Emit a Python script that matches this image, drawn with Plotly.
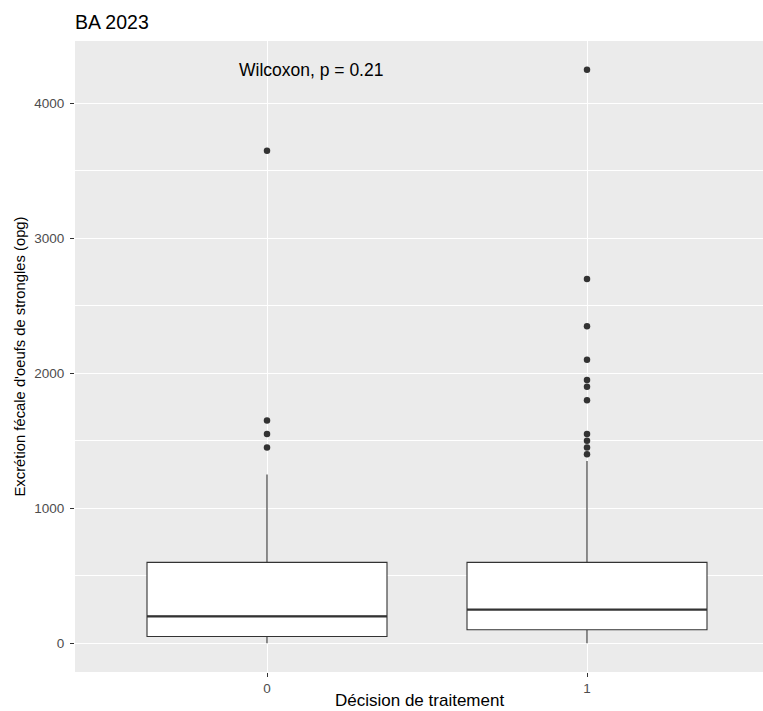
import plotly.graph_objects as go

# Data
groups = [0, 1]
group_labels = ["0", "1"]
q1 = [50, 100]
median = [200, 250]
q3 = [600, 600]
lower_whisker = [0, 0]
upper_whisker = [1250, 1350]
outliers_0 = [1450, 1550, 1650, 3650]
outliers_1 = [1400, 1450, 1500, 1550, 1800, 1900, 1950, 2100, 2350, 2700, 4250]
outliers = [outliers_0, outliers_1]
y_ticks = [0, 1000, 2000, 3000, 4000]

title_text = "BA 2023"
x_title = "Décision de traitement"
y_title = "Excrétion fécale d'oeufs de strongles (opg)"
test_label = "Wilcoxon, p = 0.21"

BOX_W = 0.75
LINE = "#333333"
FONT = "Liberation Sans, Arial, sans-serif"
ML, MT, MB = 75, 41, 39
W, H = 763, 711

fig = go.Figure()
for i, g in enumerate(groups):
    fig.add_trace(go.Box(
        x=[g], q1=[q1[i]], median=[median[i]], q3=[q3[i]],
        lowerfence=[lower_whisker[i]], upperfence=[upper_whisker[i]],
        width=BOX_W, whiskerwidth=0,
        fillcolor="white", line=dict(color=LINE, width=1.1),
        boxpoints=False, showlegend=False, hoverinfo="skip",
    ))
    # thicker median line (ggplot style)
    fig.add_trace(go.Scatter(
        x=[g - BOX_W / 2, g + BOX_W / 2], y=[median[i], median[i]],
        mode="lines", line=dict(color=LINE, width=2.2),
        showlegend=False, hoverinfo="skip",
    ))
    fig.add_trace(go.Scatter(
        x=[g] * len(outliers[i]), y=outliers[i], mode="markers",
        marker=dict(color=LINE, size=6.5, line=dict(width=0)),
        showlegend=False, hoverinfo="skip",
    ))

ymax = max(max(o) for o in outliers)
ymin = min(lower_whisker)
pad = (ymax - ymin) * 0.05

fig.add_annotation(
    x=-0.094, y=ymax, xref="x", yref="y", text=test_label,
    showarrow=False, xanchor="left", yanchor="middle",
    font=dict(family=FONT, size=17.5, color="black"),
)
# axis titles as annotations for precise placement
fig.add_annotation(
    x=0.5, y=0, xref="paper", yref="paper", text=x_title,
    showarrow=False, xanchor="center", yanchor="middle",
    yshift=-(700 - (H - MB)), font=dict(family=FONT, size=17, color="black"),
)
fig.add_annotation(
    x=0, y=0.5, xref="paper", yref="paper", text=y_title, textangle=-90,
    showarrow=False, xanchor="center", yanchor="middle",
    xshift=19 - ML, font=dict(family=FONT, size=14.8, color="black"),
)

fig.update_layout(
    width=W, height=H,
    margin=dict(l=ML, r=0, t=MT, b=MB, autoexpand=False),
    paper_bgcolor="white", plot_bgcolor="#EBEBEB",
    font=dict(family=FONT),
    title=dict(text=title_text, x=0, xref="paper", xanchor="left",
               y=1 - 22 / H, yref="container", yanchor="middle",
               font=dict(size=19.5, color="black")),
)

fig.update_xaxes(
    range=[-0.6, 1.55], tickmode="array", tickvals=groups, ticktext=group_labels,
    showgrid=True, gridcolor="white", gridwidth=1.1, zeroline=False,
    ticks="outside", ticklen=4, tickcolor=LINE, tickwidth=1.1,
    tickfont=dict(size=13.5, color="#4D4D4D"), automargin=False,
    showline=False,
)
fig.update_yaxes(
    range=[ymin - pad, ymax + pad], tickmode="array", tickvals=y_ticks,
    showgrid=True, gridcolor="white", gridwidth=1.1, zeroline=False,
    minor=dict(dtick=500, tick0=0, showgrid=True, gridcolor="white", gridwidth=0.55, ticks=""),
    ticks="outside", ticklen=4, tickcolor=LINE, tickwidth=1.1,
    tickfont=dict(size=13.5, color="#4D4D4D"), automargin=False,
    ticklabelstandoff=3,
    showline=False,
)

fig.write_html(
    "out.html",
    config={"displayModeBar": False},
    post_script="document.body.style.margin='0';document.body.style.overflow='hidden';"
                "document.documentElement.style.overflow='hidden';",
)
